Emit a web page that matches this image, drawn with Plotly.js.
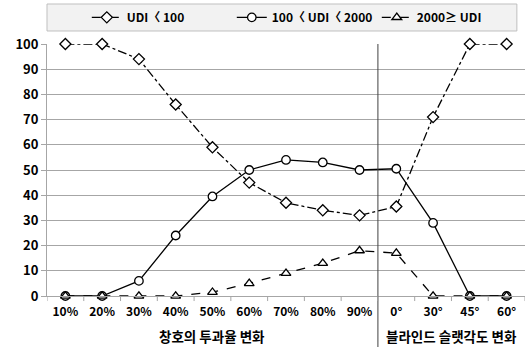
<!DOCTYPE html>
<html>
<head>
<meta charset="utf-8">
<script src="https://cdn.plot.ly/plotly-3.0.1.min.js"></script>
<style>html,body{margin:0;padding:0;background:#fff;}#chart{width:526px;height:347px;}</style>
</head>
<body>
<div id="chart"></div>
<script>
var categories = ["10%","20%","30%","40%","50%","60%","70%","80%","90%","0°","30°","45°","60°"];
var seriesNames = ["UDI〈 100", "100〈 UDI〈 2000", "2000≥ UDI"];
var udiLow = [100, 100, 94, 76, 59, 45, 37, 34, 32, 35.5, 71, 100, 100];
var udiMid = [0, 0, 6, 24, 39.5, 50, 54, 53, 50, 50.5, 29, 0, 0];
var udiHigh = [0, 0, 0, 0, 1.5, 5, 9, 13, 18, 17, 0, 0, 0];
var groupLabels = ["창호의 투과율 변화", "블라인드 슬랫각도 변화"];

var FONT = '"Noto Sans CJK KR", "Noto Sans", sans-serif';
var idx = categories.map(function(_, i){ return i; });

function tr(name, y, dash, symbol){
  return {
    x: idx, y: y, name: name, type: 'scatter', mode: 'lines+markers',
    line: {color: '#000', width: 1.3, dash: dash},
    marker: {symbol: symbol, size: 8.5, color: '#fff', line: {color: '#000', width: 1.3}},
    cliponaxis: false
  };
}
var data = [
  tr(seriesNames[0], udiLow, 'dashdot', 'diamond'),
  tr(seriesNames[1], udiMid, 'solid', 'circle'),
  tr(seriesNames[2], udiHigh, 'dash', 'triangle-up')
];

var layout = {
  width: 526, height: 347,
  margin: {l: 47, r: 1, t: 44, b: 51},
  paper_bgcolor: '#fff', plot_bgcolor: '#fff',
  font: {family: FONT, color: '#000'},
  showlegend: true,
  legend: {
    orientation: 'h', xref: 'container', x: 0.165, xanchor: 'left',
    yref: 'container', y: 0.95, yanchor: 'middle',
    bgcolor: 'rgba(0,0,0,0)', borderwidth: 0,
    font: {family: FONT, size: 12, weight: 'bold', color: '#000'},
    entrywidth: 100, entrywidthmode: 'pixels', itemwidth: 30
  },
  xaxis: {
    type: 'linear', range: [-0.5, 12.5],
    tickmode: 'array', tickvals: idx, ticktext: categories,
    showgrid: false, zeroline: false,
    showline: true, linecolor: '#a6a6a6', linewidth: 1,
    ticks: '', ticklabelstandoff: 5,
    tickfont: {family: FONT, size: 12, weight: 'bold', color: '#000'},
    fixedrange: true
  },
  yaxis: {
    range: [0, 100], tickvals: [0,10,20,30,40,50,60,70,80,90,100],
    showgrid: true, gridcolor: '#a6a6a6', gridwidth: 1, zeroline: false,
    showline: true, linecolor: '#a6a6a6', linewidth: 1,
    ticks: 'outside', ticklen: 5, tickcolor: '#a6a6a6',
    tickfont: {family: FONT, size: 13, weight: 'bold', color: '#000'},
    fixedrange: true
  },
  shapes: [
    {type: 'rect', xref: 'paper', yref: 'paper', x0: 0, x1: 0.983, y0: 1.0516, y1: 1.1587,
     fillcolor: '#f2f2f2', line: {color: '#bfbfbf', width: 1}, layer: 'below'},
    {type: 'line', xref: 'x', yref: 'paper', x0: 8.5, x1: 8.5, y0: -0.21, y1: 1,
     line: {color: '#404040', width: 1}}
  ],
  annotations: [
    {xref: 'x', yref: 'paper', x: 4, y: -0.158, text: groupLabels[0], showarrow: false,
     font: {family: FONT, size: 13.5, weight: 'bold', color: '#000'}, yanchor: 'middle'},
    {xref: 'x', yref: 'paper', x: 10.5, y: -0.158, text: groupLabels[1], showarrow: false,
     font: {family: FONT, size: 13.5, weight: 'bold', color: '#000'}, yanchor: 'middle'}
  ]
};
for (var i = 0; i <= categories.length; i++) {
  layout.shapes.push({type: 'line', xref: 'x', yref: 'paper', x0: i - 0.5, x1: i - 0.5, y0: 0, y1: -0.02,
    line: {color: '#a6a6a6', width: 1}});
}
Plotly.newPlot('chart', data, layout, {displayModeBar: false, staticPlot: true});
</script>
</body>
</html>
